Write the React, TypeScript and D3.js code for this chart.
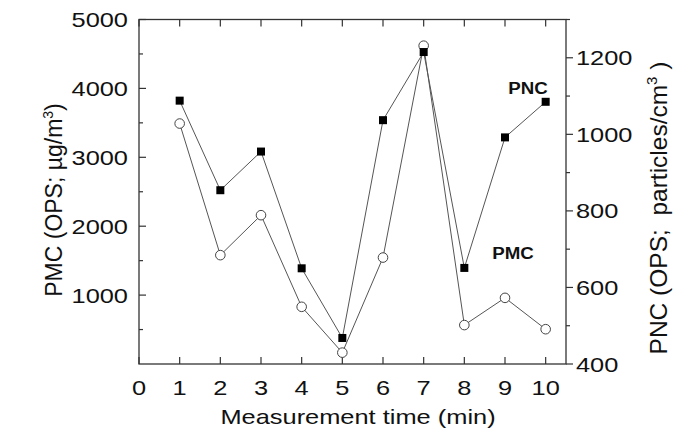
import React from "react";
import * as d3 from "d3";

const times = [1, 2, 3, 4, 5, 6, 7, 8, 9, 10];
const pmc = [3490, 1580, 2160, 830, 165, 1545, 4620, 565, 960, 505];
const pnc = [1088, 854, 955, 650, 468, 1037, 1215, 651, 992, 1085];
const xTicks = [0, 1, 2, 3, 4, 5, 6, 7, 8, 9, 10];
const leftTicks = [1000, 2000, 3000, 4000, 5000];
const leftMinor = [500, 1500, 2500, 3500, 4500];
const rightTicks = [400, 600, 800, 1000, 1200];
const rightMinor = [500, 700, 900, 1100, 1300];

const W = 692, H = 429;
const L = 139, R = 566, T = 19.5, B = 364;
const FONT = "'Liberation Sans', Arial, Helvetica, sans-serif";
const SX = 1.21;
const AX = "#333";
const LN = "#555";

export default function App() {
  const x = d3.scaleLinear().domain([0, 10.5]).range([L, R]);
  const yl = d3.scaleLinear().domain([0, 5000]).range([B, T]);
  const yr = d3.scaleLinear().domain([400, 1300]).range([B, T]);
  const pmcLine = d3.line<number>().x((_, i) => x(times[i])).y((d) => yl(d))(pmc) || "";
  const pncLine = d3.line<number>().x((_, i) => x(times[i])).y((d) => yr(d))(pnc) || "";

  const HText = ({ x: tx, y: ty, anchor, children, size = 21, weight = "normal", sx = SX }: any) => (
    <text transform={`translate(${tx},${ty}) scale(${sx},1)`} textAnchor={anchor} fontSize={size} fontWeight={weight} fontFamily={FONT} fill="#111">
      {children}
    </text>
  );

  return (
    <svg width={W} height={H} style={{ position: "absolute", left: 0, top: 0, background: "#fff" }}>
      <rect x={0} y={0} width={W} height={H} fill="#fff" />
      {/* frame */}
      <rect x={L} y={T} width={R - L} height={B - T} fill="none" stroke={AX} strokeWidth={1.3} />
      {/* bottom/top ticks */}
      {xTicks.map((t) => (
        <g key={"xt" + t}>
          <line x1={x(t)} x2={x(t)} y1={B} y2={B - 7} stroke={AX} strokeWidth={1.2} />
          <line x1={x(t)} x2={x(t)} y1={T} y2={T + 7} stroke={AX} strokeWidth={1.2} />
          <HText x={x(t)} y={395} anchor="middle">{t}</HText>
        </g>
      ))}
      {/* left ticks */}
      {leftTicks.map((t) => (
        <g key={"lt" + t}>
          <line x1={L} x2={L + 7} y1={yl(t)} y2={yl(t)} stroke={AX} strokeWidth={1.2} />
          <HText x={128} y={yl(t) + 7.5} anchor="end">{t}</HText>
        </g>
      ))}
      {leftMinor.map((t) => (
        <line key={"lm" + t} x1={L} x2={L + 4} y1={yl(t)} y2={yl(t)} stroke={AX} strokeWidth={1.2} />
      ))}
      {/* right ticks */}
      {rightTicks.map((t) => (
        <g key={"rt" + t}>
          <line x1={R} x2={R + 7} y1={yr(t)} y2={yr(t)} stroke={AX} strokeWidth={1.2} />
          <HText x={576} y={yr(t) + 7.5} anchor="start">{t}</HText>
        </g>
      ))}
      {rightMinor.map((t) => (
        <line key={"rm" + t} x1={R} x2={R + 4} y1={yr(t)} y2={yr(t)} stroke={AX} strokeWidth={1.2} />
      ))}
      {/* lines */}
      <path d={pmcLine} fill="none" stroke={LN} strokeWidth={1} />
      <path d={pncLine} fill="none" stroke={LN} strokeWidth={1} />
      {pmc.map((v, i) => (
        <circle key={"c" + i} cx={x(times[i])} cy={yl(v)} r={4.8} fill="#fff" stroke="#444" strokeWidth={1} />
      ))}
      {pnc.map((v, i) => (
        <rect key={"s" + i} x={x(times[i]) - 4} y={yr(v) - 4} width={8} height={8} fill="#000" />
      ))}
      {/* series labels */}
      <HText x={528} y={94} anchor="middle" size={17} weight="bold" sx={1.1}>PNC</HText>
      <HText x={513} y={259} anchor="middle" size={17} weight="bold" sx={1.1}>PMC</HText>
      {/* axis titles */}
      <HText x={358} y={424} anchor="middle">Measurement time (min)</HText>
      <text transform={`translate(62,200) rotate(-90)`} textAnchor="middle" fontSize={23} fontFamily={FONT} fill="#111">
        PMC (OPS; µg/m<tspan dy={-9} fontSize={14}>3</tspan><tspan dy={9}>)</tspan>
      </text>
      <text transform={`translate(667,208) rotate(-90)`} textAnchor="middle" fontSize={24.5} fontFamily={FONT} fill="#111" style={{ whiteSpace: "pre" }}>
        {"PNC (OPS;  particles/cm"}<tspan dy={-10} fontSize={15}>3</tspan><tspan dy={10}>{" )"}</tspan>
      </text>
    </svg>
  );
}
